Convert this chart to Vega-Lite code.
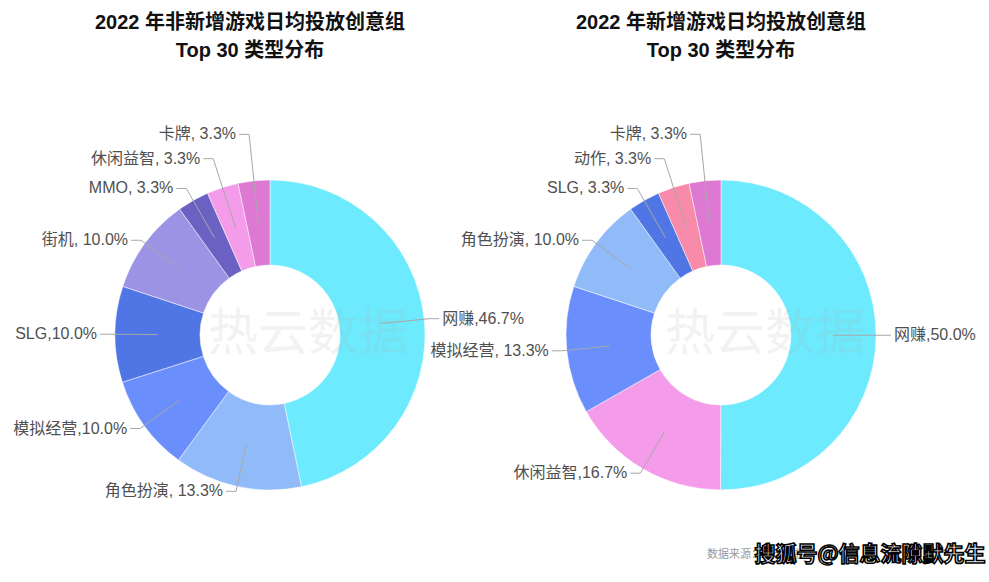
{
  "$schema": "https://vega.github.io/schema/vega-lite/v6.json",
  "background": "white",
  "padding": {"left": 0, "top": 13, "right": 0, "bottom": 0},
  "spacing": 0,
  "bounds": "flush",
  "config": {
    "view": {"stroke": null},
    "font": "Liberation Sans, Noto Sans CJK SC",
    "title": {"fontSize": 20, "fontWeight": "bold", "lineHeight": 28, "color": "#111111", "anchor": "middle", "font": "Liberation Sans, Noto Sans CJK SC", "offset": 34}
  },
  "datasets": {
    "left": [
      {"idx": 1, "name": "网赚", "value": 46.7, "label": "网赚,46.7%"},
      {"idx": 2, "name": "角色扮演", "value": 13.3, "label": "角色扮演, 13.3%"},
      {"idx": 3, "name": "模拟经营", "value": 10.0, "label": "模拟经营,10.0%"},
      {"idx": 4, "name": "SLG", "value": 10.0, "label": "SLG,10.0%"},
      {"idx": 5, "name": "街机", "value": 10.0, "label": "街机, 10.0%"},
      {"idx": 6, "name": "MMO", "value": 3.3, "label": "MMO, 3.3%"},
      {"idx": 7, "name": "休闲益智", "value": 3.3, "label": "休闲益智, 3.3%"},
      {"idx": 8, "name": "卡牌", "value": 3.3, "label": "卡牌, 3.3%"}
    ],
    "right": [
      {"idx": 1, "name": "网赚", "value": 50.0, "label": "网赚,50.0%"},
      {"idx": 2, "name": "休闲益智", "value": 16.7, "label": "休闲益智,16.7%"},
      {"idx": 3, "name": "模拟经营", "value": 13.3, "label": "模拟经营, 13.3%"},
      {"idx": 4, "name": "角色扮演", "value": 10.0, "label": "角色扮演, 10.0%"},
      {"idx": 5, "name": "SLG", "value": 3.3, "label": "SLG, 3.3%"},
      {"idx": 6, "name": "动作", "value": 3.3, "label": "动作, 3.3%"},
      {"idx": 7, "name": "卡牌", "value": 3.3, "label": "卡牌, 3.3%"}
    ]
  },
  "hconcat": [
    {
      "width": 540,
      "height": 480,
      "title": {"text": ["2022 年非新增游戏日均投放创意组", "Top 30 类型分布"], "dx": -20},
      "data": {"name": "left"},
      "transform": [
        {"window": [{"op": "sum", "field": "value", "as": "cum"}], "sort": [{"field": "idx"}], "frame": [null, 0]},
        {"joinaggregate": [{"op": "sum", "field": "value", "as": "total"}]},
        {"calculate": "(datum.cum - datum.value / 2) / datum.total", "as": "mid"},
        {"calculate": "2 * PI * datum.mid", "as": "ang"},
        {"calculate": "datum.mid > 0.9 ? 160 + (datum.mid - 0.9) * 500 : 160", "as": "rl"},
        {"calculate": "112 * sin(datum.ang)", "as": "x0"},
        {"calculate": "112 * cos(datum.ang)", "as": "y0"},
        {"calculate": "datum.rl * sin(datum.ang)", "as": "x1"},
        {"calculate": "datum.rl * cos(datum.ang)", "as": "y1"},
        {"calculate": "datum.x1 + (sin(datum.ang) >= 0 ? 10 : -10)", "as": "xh"},
        {"calculate": "datum.x1 + (sin(datum.ang) >= 0 ? 13 : -13)", "as": "xt"}
      ],
      "layer": [
        {
          "mark": {"type": "arc", "innerRadius": 70, "outerRadius": 155, "stroke": "#ffffff", "strokeWidth": 0.5},
          "encoding": {
            "theta": {"field": "value", "type": "quantitative", "stack": true},
            "order": {"field": "idx", "type": "quantitative"},
            "color": {
              "field": "name", "type": "nominal", "legend": null,
              "scale": {
                "domain": ["网赚", "角色扮演", "模拟经营", "SLG", "街机", "MMO", "休闲益智", "卡牌", "动作"],
                "range": ["#6DEAFD", "#90BBF8", "#6A8EFC", "#4F76E4", "#9D93E5", "#6B61C2", "#F49BEA", "#DD79D3", "#F98BAA"]
              }
            }
          }
        },
        {
          "mark": {"type": "rule", "color": "#a8a8a8", "strokeWidth": 1},
          "encoding": {
            "x": {"field": "x0", "type": "quantitative", "scale": {"domain": [-270, 270], "nice": false, "zero": false}, "axis": null},
            "y": {"field": "y0", "type": "quantitative", "scale": {"domain": [-240, 240], "nice": false, "zero": false}, "axis": null},
            "x2": {"field": "x1"},
            "y2": {"field": "y1"}
          }
        },
        {
          "mark": {"type": "rule", "color": "#a8a8a8", "strokeWidth": 1},
          "encoding": {
            "x": {"field": "x1", "type": "quantitative"},
            "y": {"field": "y1", "type": "quantitative"},
            "x2": {"field": "xh"}
          }
        },
        {
          "transform": [{"filter": "sin(datum.ang) >= 0"}],
          "mark": {"type": "text", "align": "left", "baseline": "middle", "fontSize": 16, "color": "#505050"},
          "encoding": {
            "x": {"field": "xt", "type": "quantitative"},
            "y": {"field": "y1", "type": "quantitative"},
            "text": {"field": "label"}
          }
        },
        {
          "transform": [{"filter": "sin(datum.ang) < 0"}],
          "mark": {"type": "text", "align": "right", "baseline": "middle", "fontSize": 16, "color": "#505050"},
          "encoding": {
            "x": {"field": "xt", "type": "quantitative"},
            "y": {"field": "y1", "type": "quantitative"},
            "text": {"field": "label"}
          }
        },
        {
          "data": {"values": [{"t": "热云数据"}]},
          "mark": {"type": "text", "fontSize": 50, "color": "#b0b0b0", "opacity": 0.15, "dx": 38, "baseline": "middle", "font": "Noto Sans CJK SC"},
          "encoding": {"text": {"field": "t"}}
        }
      ]
    },
    {
      "width": 362,
      "height": 480,
      "title": {"text": ["2022 年新增游戏日均投放创意组", "Top 30 类型分布"]},
      "data": {"name": "right"},
      "transform": [
        {"window": [{"op": "sum", "field": "value", "as": "cum"}], "sort": [{"field": "idx"}], "frame": [null, 0]},
        {"joinaggregate": [{"op": "sum", "field": "value", "as": "total"}]},
        {"calculate": "(datum.cum - datum.value / 2) / datum.total", "as": "mid"},
        {"calculate": "2 * PI * datum.mid", "as": "ang"},
        {"calculate": "datum.mid > 0.9 ? 160 + (datum.mid - 0.9) * 500 : 160", "as": "rl"},
        {"calculate": "112 * sin(datum.ang)", "as": "x0"},
        {"calculate": "112 * cos(datum.ang)", "as": "y0"},
        {"calculate": "datum.rl * sin(datum.ang)", "as": "x1"},
        {"calculate": "datum.rl * cos(datum.ang)", "as": "y1"},
        {"calculate": "datum.x1 + (sin(datum.ang) >= 0 ? 10 : -10)", "as": "xh"},
        {"calculate": "datum.x1 + (sin(datum.ang) >= 0 ? 13 : -13)", "as": "xt"}
      ],
      "layer": [
        {
          "mark": {"type": "arc", "innerRadius": 70, "outerRadius": 155, "stroke": "#ffffff", "strokeWidth": 0.5},
          "encoding": {
            "theta": {"field": "value", "type": "quantitative", "stack": true},
            "order": {"field": "idx", "type": "quantitative"},
            "color": {
              "field": "name", "type": "nominal", "legend": null,
              "scale": {
                "domain": ["网赚", "角色扮演", "模拟经营", "SLG", "街机", "MMO", "休闲益智", "卡牌", "动作"],
                "range": ["#6DEAFD", "#90BBF8", "#6A8EFC", "#4F76E4", "#9D93E5", "#6B61C2", "#F49BEA", "#DD79D3", "#F98BAA"]
              }
            }
          }
        },
        {
          "mark": {"type": "rule", "color": "#a8a8a8", "strokeWidth": 1},
          "encoding": {
            "x": {"field": "x0", "type": "quantitative", "scale": {"domain": [-181, 181], "nice": false, "zero": false}, "axis": null},
            "y": {"field": "y0", "type": "quantitative", "scale": {"domain": [-240, 240], "nice": false, "zero": false}, "axis": null},
            "x2": {"field": "x1"},
            "y2": {"field": "y1"}
          }
        },
        {
          "mark": {"type": "rule", "color": "#a8a8a8", "strokeWidth": 1},
          "encoding": {
            "x": {"field": "x1", "type": "quantitative"},
            "y": {"field": "y1", "type": "quantitative"},
            "x2": {"field": "xh"}
          }
        },
        {
          "transform": [{"filter": "sin(datum.ang) >= 0"}],
          "mark": {"type": "text", "align": "left", "baseline": "middle", "fontSize": 16, "color": "#505050"},
          "encoding": {
            "x": {"field": "xt", "type": "quantitative"},
            "y": {"field": "y1", "type": "quantitative"},
            "text": {"field": "label"}
          }
        },
        {
          "transform": [{"filter": "sin(datum.ang) < 0"}],
          "mark": {"type": "text", "align": "right", "baseline": "middle", "fontSize": 16, "color": "#505050"},
          "encoding": {
            "x": {"field": "xt", "type": "quantitative"},
            "y": {"field": "y1", "type": "quantitative"},
            "text": {"field": "label"}
          }
        },
        {
          "data": {"values": [{"t": "热云数据"}]},
          "mark": {"type": "text", "fontSize": 50, "color": "#b0b0b0", "opacity": 0.15, "dx": 44, "baseline": "middle", "font": "Noto Sans CJK SC"},
          "encoding": {"text": {"field": "t"}}
        },
        {
          "data": {"values": [{"t": "数据来源：热云数据"}]},
          "mark": {"type": "text", "fontSize": 11, "color": "#9a9a9a", "align": "left", "baseline": "middle", "dx": -14, "dy": 220},
          "encoding": {"text": {"field": "t"}}
        },
        {
          "data": {"values": [{"t": "搜狐号@信息流隙默先生"}]},
          "mark": {"type": "text", "fontSize": 21, "fontWeight": "bold", "color": "#ffffff", "stroke": "#000000", "strokeWidth": 1.6, "align": "center", "baseline": "middle", "dx": 149, "dy": 220, "font": "Noto Sans CJK SC"},
          "encoding": {"text": {"field": "t"}}
        }
      ]
    }
  ]
}
